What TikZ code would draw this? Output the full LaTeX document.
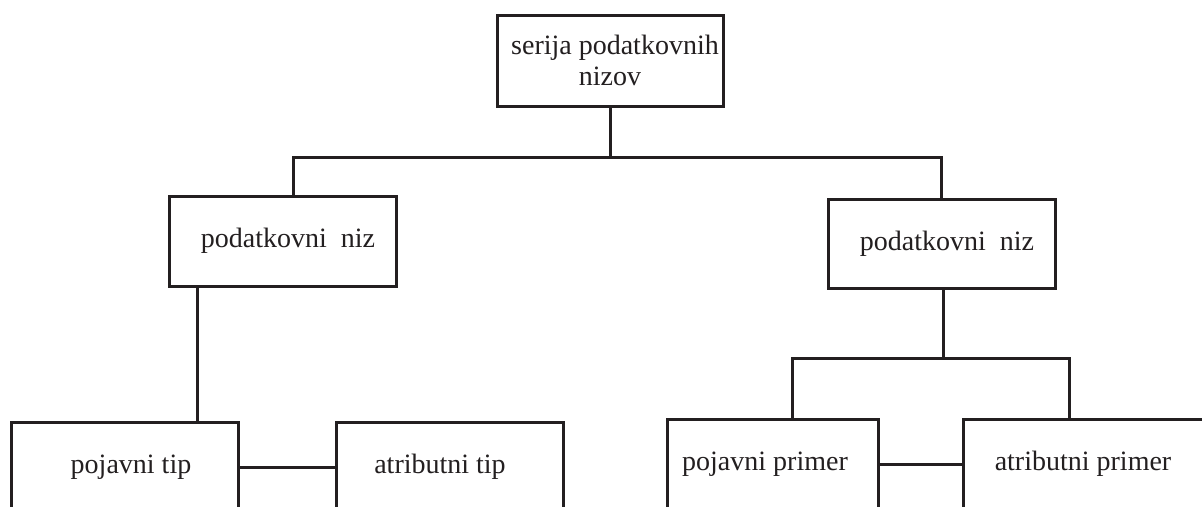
\documentclass[tikz,border=0pt]{standalone}
\usepackage{fontspec}
\setmainfont{Liberation Serif}
\usetikzlibrary{positioning}

\tikzset{
    ndBox/.style={draw={rgb,255:red,35;green,31;blue,32}, fill=white, text={rgb,255:red,35;green,31;blue,32}, line width=3pt, rectangle, minimum width=227pt, minimum height=90pt, inner sep=0pt, align=center, font=\fontsize{28}{31}\selectfont},
    ndLine/.style={draw={rgb,255:red,35;green,31;blue,32}, line width=3pt}
}

\begin{document}
\begin{tikzpicture}[x=1pt, y=-1pt]
    \useasboundingbox (0,0) rectangle (1202,506);
    \clip (0,0) rectangle (1202,506);

    % top level
    \node[ndBox, minimum width=226pt, minimum height=91pt] (ndSerija) at (610,60.5) {\hspace*{10pt}serija podatkovnih\\ nizov};

    % second level
    \node[ndBox] (ndNiz1) at (282.5,241) {\hspace*{11pt}podatkovni\ \ niz};
    \node[ndBox, minimum height=89pt] (ndNiz2) at (941.5,243.5) {\hspace*{11pt}podatkovni\ \ niz};

    % third level, cut off by the page edge
    \node[ndBox] (ndTip1) at (124.5,467) {\hspace*{13pt}pojavni tip};
    \node[ndBox] (ndTip2) at (450,467) {\hspace*{-20pt}atributni tip};
    \node[ndBox, minimum width=211pt] (ndPrimer1) at (772.5,464) {\hspace*{-15pt}pojavni primer};
    \node[ndBox, minimum width=250pt] (ndPrimer2) at (1088,464) {\hspace*{-10pt}atributni primer};

    % connectors
    \draw[ndLine] (ndSerija.south) -- ++(0,50) coordinate (ndBus1);
    \draw[ndLine] ([xshift=10.5pt]ndNiz1.north) |- (ndBus1) -| (ndNiz2.north);
    \draw[ndLine] ([xshift=-85.5pt]ndNiz1.south) -- ([xshift=-85.5pt]ndNiz1.south |- ndTip1.north);
    \draw[ndLine] (ndTip1) -- (ndTip2);
    \draw[ndLine] ([xshift=1.5pt]ndNiz2.south) -- ++(0,69) coordinate (ndBus2);
    \draw[ndLine] ([xshift=19.5pt]ndPrimer1.north) |- (ndBus2) -| ([xshift=-19pt]ndPrimer2.north);
    \draw[ndLine] (ndPrimer1) -- (ndPrimer2);
\end{tikzpicture}
\end{document}
